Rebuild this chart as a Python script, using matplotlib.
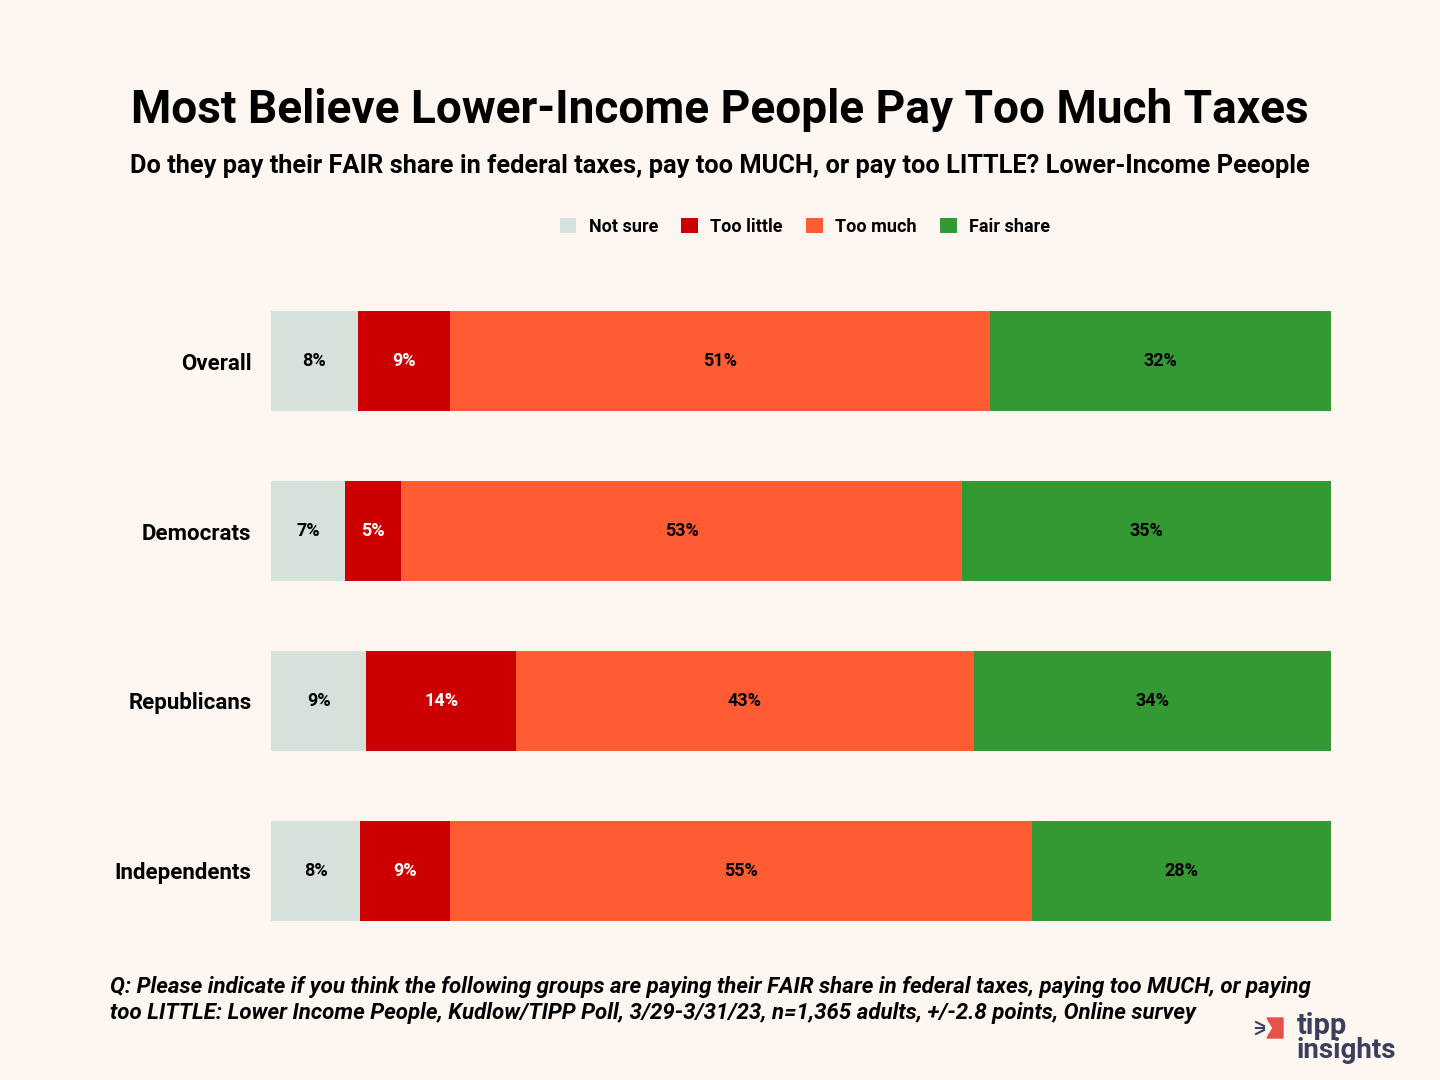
#!/usr/bin/env python3
'''
Stacked horizontal bars: lower-income people and federal taxes
'''
import numpy as np
import matplotlib.pyplot as plt
from matplotlib.patches import Polygon

groups = ['Overall', 'Democrats', 'Republicans', 'Independents']
series = ['Not sure', 'Too little', 'Too much', 'Fair share']
not_sure = [8.2, 7.0, 9.0, 8.4]
too_little = [8.7, 5.3, 14.1, 8.5]
too_much = [50.9, 52.9, 43.2, 54.9]
fair_share = [32.2, 34.8, 33.7, 28.2]
labels = [['8%', '7%', '9%', '8%'],
          ['9%', '5%', '14%', '9%'],
          ['51%', '53%', '43%', '55%'],
          ['32%', '35%', '34%', '28%']]

colors = ['#D7E1DB', '#CC0000', '#FF5C33', '#339933']
text_colors = ['black', 'white', 'black', 'black']
bg = '#FDF6F1'

plt.rcParams['font.family'] = ['Roboto', 'DejaVu Sans']

fig = plt.figure(figsize=(14.4, 10.8), dpi=100, facecolor=bg)
ax = fig.add_axes([271 / 1440, 140 / 1080, 1060 / 1440, 650 / 1080])
ax.set_facecolor(bg)


def fit(txt, width_px):
    '''shrink/grow a text so it spans width_px'''
    r = fig.canvas.get_renderer()
    w = txt.get_window_extent(r).width
    txt.set_fontsize(txt.get_fontsize() * width_px / w)


y = np.arange(len(groups))
left = np.zeros(len(groups))
for vals, name, col, tcol, labs in zip(
        [not_sure, too_little, too_much, fair_share], series, colors,
        text_colors, labels):
    vals = np.array(vals)
    ax.barh(y, vals, left=left, height=100 / 170, color=col, label=name)
    for yi, l, v, lab in zip(y, left, vals, labs):
        ax.text(l + v / 2, yi, lab, ha='center', va='center', fontsize=13,
                fontweight='bold', color=tcol)
    left = left + vals

ax.set_xlim(0, 100)
ax.set_ylim(3 + 69 / 170, -71 / 170)
ax.set_yticks(y)
ax.set_yticklabels(groups, fontsize=16, fontweight='bold')
ax.tick_params(axis='y', length=0, pad=14)
ax.set_xticks([])
for s in ax.spines.values():
    s.set_visible(False)

t = fig.text(0.5, 1 - 110 / 1080,
             'Most Believe Lower-Income People Pay Too Much Taxes',
             ha='center', va='center', fontsize=32, fontweight='bold')
fit(t, 1181)
t = fig.text(0.5, 1 - 166 / 1080,
             'Do they pay their FAIR share in federal taxes, pay too MUCH, '
             'or pay too LITTLE? Lower-Income Peeople',
             ha='center', va='center', fontsize=17, fontweight='bold')
fit(t, 1179)

fig.legend(loc='center', bbox_to_anchor=(805 / 1440, 1 - 227 / 1080),
           ncol=4, frameon=False, handlelength=0.9, handleheight=0.9,
           handletextpad=0.7, columnspacing=1.3,
           prop={'size': 13, 'weight': 'bold'})

t = fig.text(110 / 1440, 1 - 987 / 1080,
             'Q: Please indicate if you think the following groups are paying '
             'their FAIR share in federal taxes, paying too MUCH, or paying',
             ha='left', va='center', fontsize=15, style='italic',
             fontweight='bold')
fit(t, 1202)
fs = t.get_fontsize()
fig.text(110 / 1440, 1 - 1013 / 1080,
         'too LITTLE: Lower Income People, Kudlow/TIPP Poll, 3/29-3/31/23, '
         'n=1,365 adults, +/-2.8 points, Online survey',
         ha='left', va='center', fontsize=fs, style='italic',
         fontweight='bold')

# logo
navy = '#3B3F5C'
fig.text(1297 / 1440, 1 - 1026 / 1080, 'tipp', ha='left', va='center',
         fontsize=21, fontweight='bold', color=navy)
fig.text(1296 / 1440, 1 - 1051 / 1080, 'insights', ha='left', va='center',
         fontsize=20, fontweight='bold', color=navy)
px = np.array([1267, 1283, 1283, 1267, 1273]) / 1440
py = 1 - np.array([1018, 1018, 1038, 1038, 1028]) / 1080
fig.add_artist(Polygon(np.column_stack([px, py]), closed=True,
                       transform=fig.transFigure, color='#E8514A'))
for dy in (-5, 0, 5):
    fig.add_artist(plt.Line2D([1256 / 1440, 1264 / 1440],
                              [1 - (1028 + dy * 1.2) / 1080,
                               1 - (1028 + dy * 0.4) / 1080],
                              transform=fig.transFigure, color=navy, lw=1.5))

fig.savefig('out.png', dpi=100, facecolor=bg)
